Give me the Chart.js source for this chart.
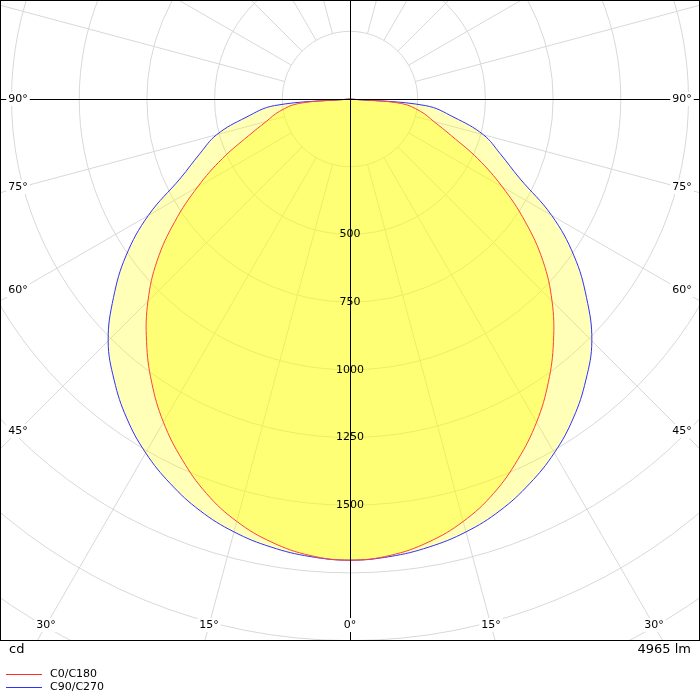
<!DOCTYPE html>
<html><head><meta charset="utf-8">
<script src="https://cdn.jsdelivr.net/npm/chart.js@4/dist/chart.umd.min.js"></script>
<style>html,body{margin:0;padding:0;background:#fff}#w{width:700px;height:700px}</style>
</head><body><div id="w"><canvas id="c"></canvas></div>
<script>
const gammaDeg = [0,5,10,15,20,25,30,35,40,45,50,55,60,65,70,75,80,85,90];
const c0c180 = [1703,1692,1662,1615,1550,1468,1378,1277,1169,1055,930,790,650,520,400,320,265,190,0];
const c90c270 = [1703,1696,1680,1655,1618,1568,1509,1438,1355,1263,1140,1010,860,690,590,510,390,280,0];
const ringValues = [500,750,1000,1250,1500];
const angleLabels = ["90°","75°","60°","45°","30°","15°","0°"];
const seriesNames = ["C0/C180","C90/C270"];
const unitLabel = "cd";
const fluxLabel = "4965 lm";

function toXY(vals){
  const pts=[];
  for(let i=gammaDeg.length-1;i>=0;i--){const a=-gammaDeg[i]*Math.PI/180;pts.push({x:vals[i]*Math.sin(a),y:-vals[i]*Math.cos(a)});}
  for(let i=1;i<gammaDeg.length;i++){const a=gammaDeg[i]*Math.PI/180;pts.push({x:vals[i]*Math.sin(a),y:-vals[i]*Math.cos(a)});}
  return pts;
}
const S=0.2708;
const fills=['rgba(255,255,0,0.36)','rgba(255,255,0,0.28)'];
const grid={id:'grid',beforeDatasetsDraw(ch){
  const ctx=ch.ctx,xs=ch.scales.x,ys=ch.scales.y,a=ch.chartArea;
  const cx=xs.getPixelForValue(0),cy=ys.getPixelForValue(0),k=xs.getPixelForValue(1000)-cx;
  ctx.save();ctx.beginPath();ctx.rect(a.left,a.top,a.right-a.left,a.bottom-a.top);ctx.clip();
  ctx.strokeStyle='#d8d8d8';ctx.lineWidth=1;
  for(let v=250;v<=2750;v+=250){ctx.beginPath();ctx.arc(cx,cy,v*k/1000,0,2*Math.PI);ctx.stroke();}
  for(let d=0;d<360;d+=15){if(d%90===0)continue;const r=d*Math.PI/180;
    ctx.beginPath();ctx.moveTo(cx+250*k/1000*Math.sin(r),cy+250*k/1000*Math.cos(r));
    ctx.lineTo(cx+3000*k/1000*Math.sin(r),cy+3000*k/1000*Math.cos(r));ctx.stroke();}
  [1,0].forEach(i=>{const pts=ch.getDatasetMeta(i).data;ctx.beginPath();
    pts.forEach((p,j)=>{if(j===0)ctx.moveTo(p.x,p.y);else{const o=pts[j-1];const cp=p.cp1x!==undefined&&o.cp2x!==undefined;
      if(cp)ctx.bezierCurveTo(o.cp2x,o.cp2y,p.cp1x,p.cp1y,p.x,p.y);else ctx.lineTo(p.x,p.y);}});
    ctx.closePath();ctx.fillStyle=fills[i];ctx.fill();});
  ctx.restore();
}};
const over={id:'over',afterDatasetsDraw(ch){
  const ctx=ch.ctx,xs=ch.scales.x,ys=ch.scales.y,a=ch.chartArea;
  const cx=xs.getPixelForValue(0),cy=ys.getPixelForValue(0),k=xs.getPixelForValue(1000)-cx;
  ctx.save();ctx.strokeStyle='#000';ctx.lineWidth=1;
  ctx.beginPath();ctx.moveTo(a.left,cy+0.5);ctx.lineTo(a.right,cy+0.5);ctx.moveTo(cx+0.5,a.top);ctx.lineTo(cx+0.5,a.bottom);ctx.stroke();
  ctx.strokeRect(a.left+0.5,a.top+0.5,a.right-a.left-1,a.bottom-a.top);
  ctx.font='11px "DejaVu Sans", sans-serif';ctx.fillStyle='#000';ctx.textAlign='center';ctx.textBaseline='middle';
  function lab(t,x,y,bg){const w=ctx.measureText(t).width+4;if(bg){ctx.fillStyle='#fff';ctx.fillRect(x-w/2,y-7,w,14);}ctx.fillStyle='#000';ctx.fillText(t,x,y);}
  ringValues.forEach(v=>lab(String(v),cx,cy+v*k/1000,false));
  [[0,99],[1,187],[2,290],[3,431]].forEach(([i,y])=>{lab(angleLabels[i],a.left+18,y,true);lab(angleLabels[i],a.right-18,y,true);});
  lab(angleLabels[4],46,625,true);lab(angleLabels[4],654,625,true);
  lab(angleLabels[5],209,625,true);lab(angleLabels[5],491,625,true);
  lab(angleLabels[6],cx,625,true);
  ctx.font='13px "DejaVu Sans", sans-serif';ctx.textAlign='left';ctx.fillText(unitLabel,9,650);
  ctx.textAlign='right';ctx.fillText(fluxLabel,691,650);
  ctx.font='11px "DejaVu Sans", sans-serif';ctx.textAlign='left';
  const cols=['#ff3030','#3030ff'];
  seriesNames.forEach((n,i)=>{const y=674+i*13;ctx.strokeStyle=cols[i];ctx.beginPath();ctx.moveTo(6,y+0.5);ctx.lineTo(42,y+0.5);ctx.stroke();ctx.fillText(n,50,y);});
  ctx.restore();
}};
new Chart(document.getElementById('c'),{type:'scatter',
 data:{datasets:[
  {label:seriesNames[0],data:toXY(c0c180),showLine:true,borderColor:'#ff4040',borderWidth:1,fill:false,pointRadius:0,tension:0.4,order:1},
  {label:seriesNames[1],data:toXY(c90c270),showLine:true,borderColor:'#3030ff',borderWidth:1,fill:false,pointRadius:0,tension:0.4,order:2}
 ]},
 options:{animation:false,responsive:true,maintainAspectRatio:false,
  layout:{padding:{left:0,right:0,top:0,bottom:60}},
  plugins:{legend:{display:false},tooltip:{enabled:false}},
  scales:{x:{display:false,min:-350/S,max:350/S},y:{display:false,min:-541/S,max:99/S}}},
 plugins:[grid,over]});
</script></body></html>
